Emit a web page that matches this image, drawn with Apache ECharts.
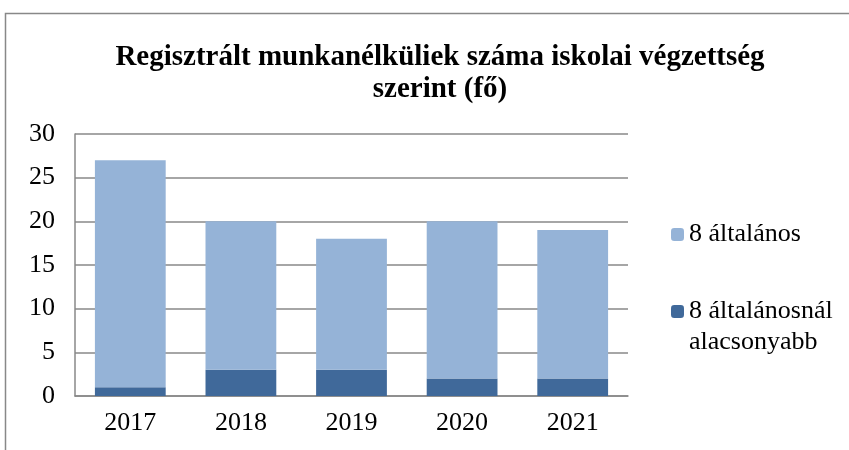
<!DOCTYPE html>
<html>
<head>
<meta charset="utf-8">
<script src="https://cdn.jsdelivr.net/npm/echarts@6/dist/echarts.min.js"></script>
<style>
    html, body { margin: 0; padding: 0; background: #fff; }
    #chart { width: 849px; height: 450px; }
</style>
</head>
<body>
<div id="chart"></div>
<script>
    var years = ['2017', '2018', '2019', '2020', '2021'];
    var alacsonyabb = [1, 3, 3, 2, 2];
    var altalanos = [26, 17, 15, 18, 17];
    var yTicks = [0, 5, 10, 15, 20, 25, 30];

    var font = '"Liberation Serif", "Times New Roman", serif';
    var chart = echarts.init(document.getElementById('chart'));
    chart.setOption({
        animation: false,
        textStyle: { fontFamily: font },
        graphic: [{
            type: 'rect',
            shape: { x: 5.5, y: 13.5, width: 900, height: 500 },
            style: { fill: 'none', stroke: '#888', lineWidth: 1.5 },
            silent: true
        }],
        title: {
            text: 'Regisztrált munkanélküliek száma iskolai végzettség\nszerint (fő)',
            left: 435,
            textAlign: 'center',
            top: 37,
            textStyle: {
                fontFamily: font,
                fontWeight: 'bold',
                fontSize: 29,
                lineHeight: 32,
                color: '#000'
            }
        },
        legend: {
            orient: 'vertical',
            left: 666,
            top: 214,
            itemWidth: 13,
            itemHeight: 13,
            itemGap: 15,
            data: ['8 általános', '8 általánosnál alacsonyabb'],
            // blank first line keeps the icon level with "8 általánosnál"
            formatter: function (name) {
                return name === '8 általánosnál alacsonyabb' ? ' \n8 általánosnál\nalacsonyabb' : name;
            },
            textStyle: { fontFamily: font, fontSize: 26, color: '#000', lineHeight: 31 }
        },
        grid: { left: 75, right: 221, top: 134, bottom: 54 },
        xAxis: {
            type: 'category',
            data: years,
            axisLine: { lineStyle: { color: '#888', width: 1.5 } },
            axisTick: { show: false },
            axisLabel: { fontFamily: font, fontSize: 26, color: '#000', margin: 14 }
        },
        yAxis: {
            type: 'value',
            min: yTicks[0],
            max: yTicks[yTicks.length - 1],
            interval: 5,
            axisLine: { show: true, lineStyle: { color: '#888', width: 1.5 } },
            axisTick: { show: false },
            splitLine: { lineStyle: { color: '#888', width: 1.5 } },
            axisLabel: { fontFamily: font, fontSize: 26, color: '#000', margin: 20 }
        },
        series: [
            {
                name: '8 általánosnál alacsonyabb',
                type: 'bar',
                stack: 'total',
                barWidth: '64%',
                data: alacsonyabb,
                itemStyle: { color: '#40699A' }
            },
            {
                name: '8 általános',
                type: 'bar',
                stack: 'total',
                barWidth: '64%',
                data: altalanos,
                itemStyle: { color: '#95B3D7' }
            }
        ]
    });
</script>
</body>
</html>
